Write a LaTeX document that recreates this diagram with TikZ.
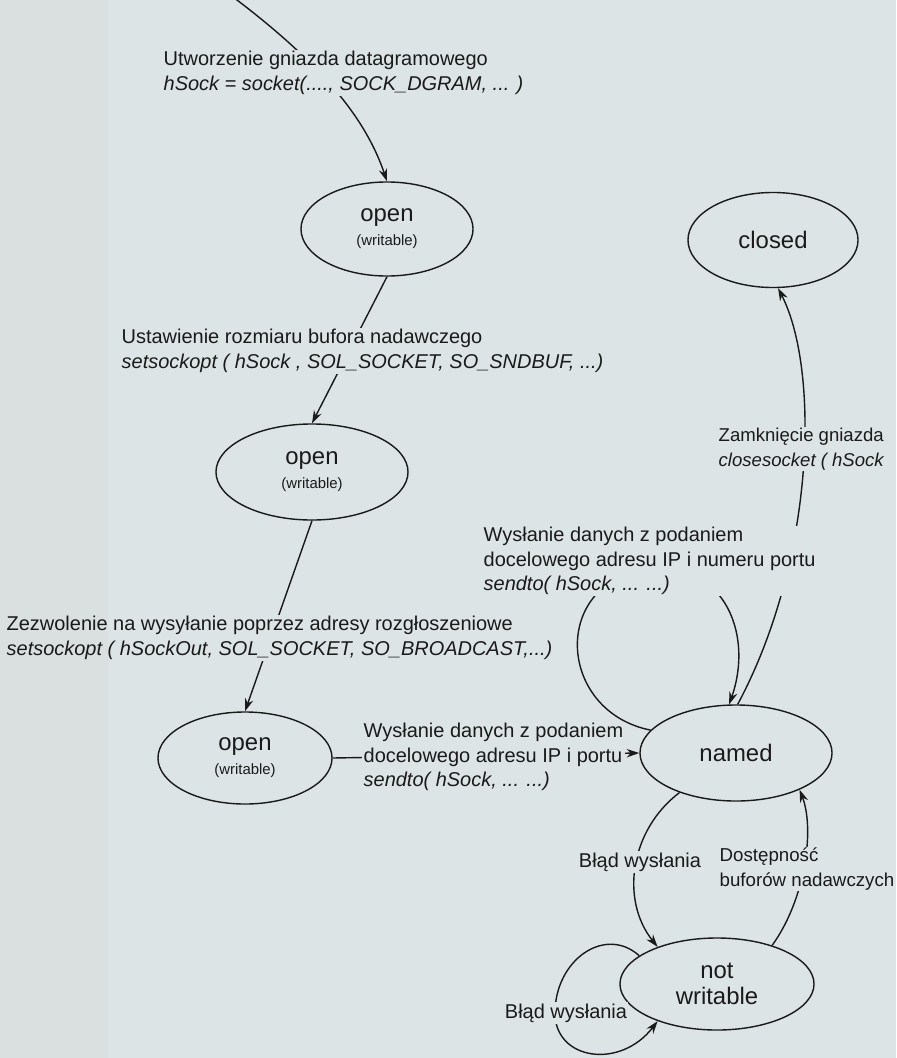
\documentclass[tikz,border=0pt]{standalone}
\usepackage{fontspec}
\setmainfont{Liberation Sans}
\usetikzlibrary{shapes.geometric,arrows.meta}
\definecolor{paper}{RGB}{221,228,230}
\definecolor{margin}{RGB}{252,251,249}
\definecolor{ink}{RGB}{26,26,26}

\begin{document}
\begin{tikzpicture}[x=0.025cm,y=-0.025cm,
    state/.style={ellipse,draw=ink,line width=1pt,inner sep=0pt,text=ink,align=center,
                  minimum width=4.4cm,minimum height=2.35cm,font=\fontsize{17}{20}\selectfont},
    lbl/.style={anchor=west,align=left,fill=paper,inner sep=1pt,text=ink,font=\fontsize{14.2}{17.4}\selectfont},
    arr/.style={draw=ink,line width=1pt,-{Stealth[length=9pt,width=6pt]}}]
    \fill[paper] (0,0) rectangle (896,1058);
    \useasboundingbox (0,0) rectangle (896,1058);
    % states ================================================
    \node[state,minimum width=4.3cm]                        (O1) at (387,229) {open\\[-3pt]{\fontsize{10.6}{12}\selectfont(writable)}};
    \node[state,minimum width=4.8cm,minimum height=2.4cm]   (O2) at (312,472) {open\\[-3pt]{\fontsize{10.6}{12}\selectfont(writable)}};
    \node[state,minimum width=4.35cm,minimum height=2.3cm]  (O3) at (245,758) {open\\[-3pt]{\fontsize{10.6}{12}\selectfont(writable)}};
    \node[state,minimum width=4.25cm,minimum height=2.375cm](CL) at (773,240) {closed};
    \node[state,minimum width=4.8cm,minimum height=2.4cm]   (NM) at (736,753) {named};
    \node[state,minimum width=4.85cm,minimum height=2.3cm]  (NW) at (717,984) {not\\[-2pt]writable};
    \coordinate (S0) at (233,-3);
    % transitions ===========================================
    \draw[arr] (S0) .. controls (330,70) and (368,125) .. (O1.north);
    \draw[arr] (O1.south) -- (O2.north);
    \draw[arr] (O2.south) -- (O3.north);
    \draw[arr] (O3.east) -- (NM.west);
    \draw[arr] (NM.165) .. controls (560,712) and (550,590) .. (640,570) .. controls (720,555) and (755,630) .. (NM.98);
    \draw[arr] (NM.88) .. controls (815,560) and (820,370) .. (CL.-84);
    \draw[arr] (NM.215) .. controls (630,830) and (620,900) .. (NW.148);
    \draw[arr] (NW.35) .. controls (805,900) and (815,830) .. (NM.-30);
    \draw[arr] (NW.160) .. controls (605,925) and (555,960) .. (555,1013) .. controls (555,1060) and (620,1070) .. (NW.212);
    % labels ================================================
    \node[lbl] (T1) at (162,73)  {Utworzenie gniazda datagramowego\\\textit{hSock = socket(...., SOCK\_DGRAM, ... )}};
    \node[lbl] (T2) at (120,351) {Ustawienie rozmiaru bufora nadawczego\\\textit{setsockopt ( hSock , SOL\_SOCKET, SO\_SNDBUF, ...)}};
    \node[lbl] (T3) at (5,638)   {Zezwolenie na wysyłanie poprzez adresy rozgłoszeniowe\\\textit{setsockopt ( hSockOut, SOL\_SOCKET, SO\_BROADCAST,...)}};
    \node[lbl] (T4) at (362,757) {Wysłanie danych z podaniem\\docelowego adresu IP i portu\\\textit{sendto( hSock, ... ...)}};
    \node[lbl] (T5) at (482,561) {Wysłanie danych z podaniem\\docelowego adresu IP i numeru portu\\\textit{sendto( hSock, ... ...)}};
    \node[lbl,font=\fontsize{13.2}{17.4}\selectfont] (T6) at (717,449) {Zamknięcie gniazda\\\textit{closesocket ( hSock}};
    \node[lbl,anchor=center] (T7) at (640,862) {Błąd wysłania};
    \node[lbl,font=\fontsize{13.3}{17.4}\selectfont] (T8) at (718,869) {Dostępność\\buforów nadawczych};
    \node[lbl,anchor=center] (T9) at (566,1013) {Błąd wysłania};
    % scan margin
    \fill[margin,blend mode=multiply] (0,0) rectangle (108,1058);
\end{tikzpicture}
\end{document}
